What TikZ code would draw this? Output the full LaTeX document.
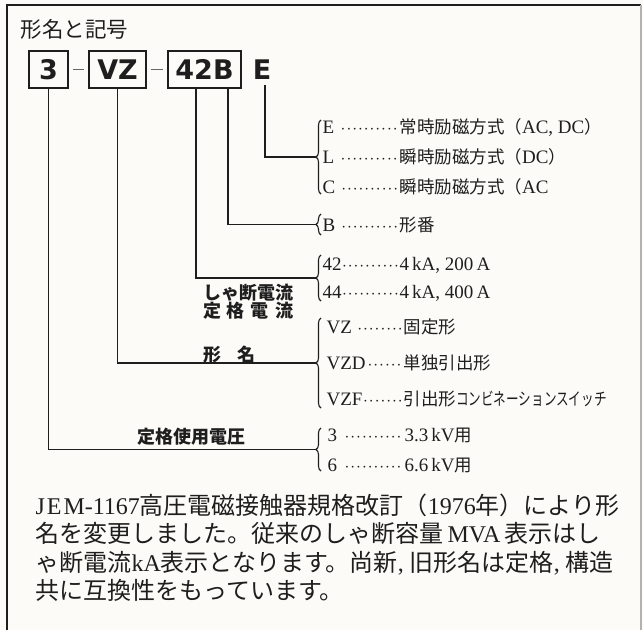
\documentclass[tikz,border=0pt]{standalone}
\usepackage{fontspec}
\setmainfont{Liberation Serif}
\newfontfamily\jp{Noto Sans CJK JP}
\newfontfamily\codefont{DejaVu Sans}
\usetikzlibrary{decorations.pathreplacing}
\definecolor{paper}{RGB}{252,251,247}
\definecolor{ink}{RGB}{30,30,30}
\newcommand{\jpr}{\jp\fontsize{17.5}{20}\selectfont}
\newcommand{\leaderrow}[2]{\hbox to 77pt{#1\cleaders\hbox to 5.8pt{\hss$\cdot$\hss}\hfill}#2}

\begin{document}
\begin{tikzpicture}[x=1pt,y=-1pt,line width=1.1pt,ink]
    \tikzset{
      codebox/.style={draw,line width=1.3pt,inner sep=0pt,minimum height=37pt,
        font=\codefont\bfseries\fontsize{27}{30}\selectfont},
      rowtext/.style={anchor=west,inner sep=0pt,font=\fontsize{19}{21}\selectfont},
      grouplabel/.style={inner sep=0pt,font=\jp\bfseries\fontsize{18}{20}\selectfont},
      notetext/.style={anchor=base west,inner sep=0pt,font=\fontsize{24}{28}\selectfont},
      brace/.style={decorate,decoration={brace,amplitude=5pt}},
    }
    \fill[paper] (0,0) rectangle (643,630);
    \useasboundingbox (0,0) rectangle (643,630);
    \draw (7,630) -- (7,5) -- (641,5);
    \draw[gray!60] (641,5) -- (641,630);

    \node[anchor=west,inner sep=0pt,font=\jp\fontsize{21.5}{24}\selectfont] (title) at (20,29) {形名と記号};

    % code boxes
    \node[codebox,minimum width=39pt] (b3) at (48.5,69.5) {3};
    \node[codebox,minimum width=57pt] (bVZ) at (117.5,69.5) {VZ};
    \node[codebox,minimum width=73pt] (b42B) at (204.5,69.5) {42B};
    \node[inner sep=0pt,font=\codefont\bfseries\fontsize{27}{30}\selectfont] (cE) at (262,70) {E};
    \draw[gray!80!black,line width=1pt,shorten <=4pt,shorten >=4pt] (b3) -- (bVZ);
    \draw[gray!80!black,line width=1pt,shorten <=4pt,shorten >=4pt] (bVZ) -- (b42B);

    % braces
    \draw[brace] (321,194) -- (321,120);
    \coordinate (tE) at (316,157);
    \draw[brace] (321,235) -- (321,214);
    \coordinate (tB) at (316,224.5);
    \draw[brace] (321,301) -- (321,255);
    \coordinate (t42) at (316,278);
    \draw[brace] (321,408) -- (321,318);
    \coordinate (tVZ) at (316,363);
    \draw[brace] (321,471) -- (321,428);
    \coordinate (t3) at (316,449.5);

    \draw[shorten <=5pt] ([xshift=3pt]cE.south) |- (tE);
    \draw ([xshift=23.5pt]b42B.south) |- (tB);
    \draw ([xshift=-8.5pt]b42B.south) |- (t42);
    \draw (bVZ.south) |- (tVZ);
    \draw (b3.south) |- (t3);

    % rows
    \node[rowtext] (rE) at (322,127) {\leaderrow{E\ }{{\jpr 常時励磁方式（}AC, DC{\jpr ）}}};
    \node[rowtext] (rL) at (322,157) {\leaderrow{L\ }{{\jpr 瞬時励磁方式（}DC{\jpr ）}}};
    \node[rowtext] (rC) at (322,187) {\leaderrow{C\ }{{\jpr 瞬時励磁方式（}AC}};
    \node[rowtext] (rB) at (322,225) {\leaderrow{B\ }{{\jpr 形番}}};
    \node[rowtext] (r42) at (322,265) {\leaderrow{42}{4\,kA, 200\,A}};
    \node[rowtext] (r44) at (322,293) {\leaderrow{44}{4\,kA, 400\,A}};
    \node[rowtext] (rVZ) at (326,327) {\leaderrow{VZ\ }{{\jpr 固定形}}};
    \node[rowtext] (rVZD) at (326,363) {\leaderrow{VZD}{{\jpr 単独引出形}}};
    \node[rowtext] (rVZF) at (326,399) {\leaderrow{VZF}{{\jpr 引出形\scalebox{0.72}[1]{コンビネーションスイッチ}}}};
    \node[rowtext] (r3) at (327,435) {\leaderrow{3\ }{3.3\,kV{\jpr 用}}};
    \node[rowtext] (r6) at (327,465) {\leaderrow{6\ }{6.6\,kV{\jpr 用}}};

    % group labels
    \node[grouplabel] (lblcur) at (248,293) {しゃ断電流};
    \node[grouplabel] (lblrated) at (248,311) {\makebox[90pt][s]{定\hfil 格\hfil 電\hfil 流}};
    \node[grouplabel] (lbltype) at (229.5,355) {\makebox[53pt][s]{形\hfil 名}};
    \node[grouplabel] (lblvolt) at (191,437) {定格使用電圧};

    % note
    \node[notetext] (note1) at (35,514) {J\kern2pt E\kern2pt M-1167{\jp 高圧電磁接触器規格改訂（}1976{\jp 年）により形}};
    \node[notetext] (note2) at (35,542.5) {{\jp 名を変更しました。従来のしゃ断容量}\,MVA\,{\jp 表示はし}};
    \node[notetext] (note3) at (35,571) {{\jp ゃ断電流}kA{\jp 表示となります。尚新}, {\jp 旧形名は定格}, {\jp 構造}};
    \node[notetext] (note4) at (35,599.5) {{\jp 共に互換性をもっています。}};
\end{tikzpicture}
\end{document}
